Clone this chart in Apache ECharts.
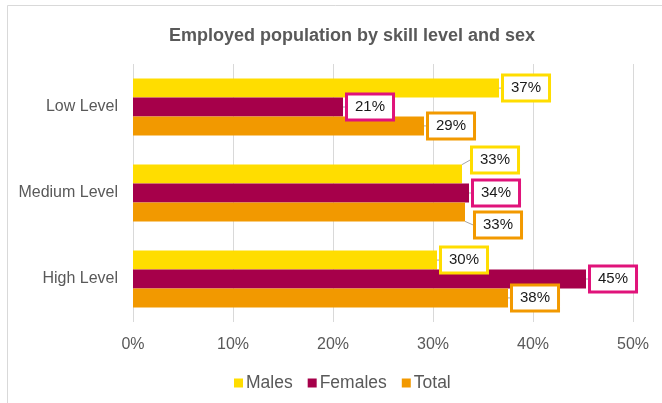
<!DOCTYPE html>
<html><head><meta charset="utf-8">
<script src="https://cdn.jsdelivr.net/npm/echarts@6/dist/echarts.min.js"></script>
<style>html,body{margin:0;padding:0;background:#fff}#c{width:662px;height:403px}</style>
</head><body><div id="c"></div>
<script>
const categories = ['Low Level', 'Medium Level', 'High Level'];
const males = [36.6, 32.9, 30.4];
const females = [21.0, 33.6, 45.3];
const total = [29.1, 33.2, 37.5];
const xTicks = [0, 10, 20, 30, 40, 50];
const seriesNames = ['Males', 'Females', 'Total'];

const barColors = ['#FFDD00', '#A6004A', '#F29900'];
const borderColors = ['#FFDD00', '#E0137A', '#F29900'];
// label vertical shifts for the Medium group (avoid overlap)
const mediumShift = [-14, 0, 13];

const chart = echarts.init(document.getElementById('c'));
const font = 'Liberation Sans, Arial, sans-serif';
function mk(name, data, i) {
  return {
    name: name, type: 'bar', data: data,
    barGap: '0%', barCategoryGap: '34%',
    itemStyle: { color: barColors[i] },
    label: {
      show: true, position: 'right', distance: 5,
      formatter: p => Math.round(p.value) + '%',
      fontFamily: font, fontSize: 15, color: '#1a1a1a',
      backgroundColor: '#fff', borderColor: borderColors[i], borderWidth: 3,
      padding: [5, 7, 3, 7]
    },
    labelLine: { show: true, lineStyle: { color: '#a6a6a6', width: 1 } },
    labelLayout: function (p) {
      if (p.dataIndex === 1 && mediumShift[i] !== 0) {
        return { dx: 6, dy: mediumShift[i] };
      }
      return {};
    }
  };
}
chart.setOption({
  backgroundColor: '#fff',
  animation: false,
  textStyle: { fontFamily: font },
  graphic: [{ type: 'rect', silent: true, shape: { x: 7.5, y: 5.5, width: 700, height: 420 },
    style: { fill: 'none', stroke: '#d9d9d9', lineWidth: 1 } }],
  title: { text: 'Employed population by skill level and sex', left: 164, top: 22,
    textStyle: { fontFamily: font, fontSize: 18, fontWeight: 'bold', color: '#595959' } },
  legend: { data: seriesNames, top: 369, left: 229, itemWidth: 9, itemHeight: 9, itemGap: 15,
    icon: 'rect', textStyle: { fontFamily: font, fontSize: 17.5, color: '#595959', padding: [0, 0, 0, -2] } },
  grid: { left: 133, right: 29, top: 64, bottom: 81, containLabel: false },
  xAxis: { type: 'value', min: xTicks[0], max: xTicks[xTicks.length - 1], interval: 10,
    axisLine: { show: false }, axisTick: { show: false },
    splitLine: { show: true, lineStyle: { color: '#d9d9d9' } },
    axisLabel: { formatter: v => v + '%', fontFamily: font, fontSize: 16, color: '#595959', margin: 15 } },
  yAxis: { type: 'category', data: categories, inverse: true,
    axisLine: { show: false }, axisTick: { show: false },
    axisLabel: { fontFamily: font, fontSize: 16, color: '#595959', margin: 15, padding: [3, 0, 0, 0] } },
  series: [mk(seriesNames[0], males, 0), mk(seriesNames[1], females, 1), mk(seriesNames[2], total, 2)]
});
</script></body></html>
